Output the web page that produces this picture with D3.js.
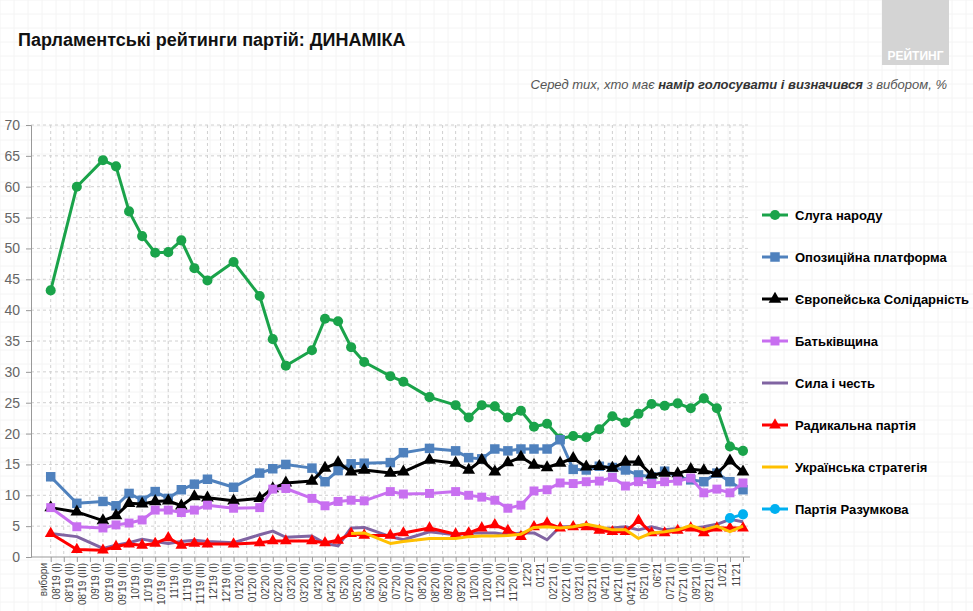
<!DOCTYPE html>
<html>
<head>
<meta charset="utf-8">
<script src="https://d3js.org/d3.v7.min.js"></script>
<style>
body { margin: 0; background: #fff; font-family: Arial, "Liberation Sans", sans-serif; }
</style>
</head>
<body>
<svg width="973" height="611"></svg>
<script>
// categories (survey waves)
var labels = ["вибори","08'19 (I)","08'19 (II)","08'19 (III)","09'19 (I)","09'19 (II)","09'19 (III)","10'19 (I)","10'19 (II)","10'19 (III)",
  "11'19 (I)","11'19 (II)","11'19 (III)","12'19 (I)","12'19 (II)","01'20 (I)","01'20 (II)","02'20 (I)","02'20 (II)","03'20 (I)",
  "03'20 (II)","04'20 (I)","04'20 (II)","05'20 (I)","05'20 (II)","06'20 (I)","06'20 (II)","07'20 (I)","07'20 (II)","08'20 (I)",
  "08'20 (II)","09'20 (I)","09'20 (II)","10'20 (I)","10'20 (II)","11'20 (I)","11'20 (II)","12'20","01'21","02'21 (I)",
  "02'21 (II)","03'21 (I)","03'21 (II)","04'21 (I)","04'21 (II)","04'21 (III)","05'21 (I)","06'21","07'21 (I)","07'21 (II)",
  "09'21 (I)","09'21 (II)","10'21","11'21"];
var yTicks = [0,5,10,15,20,25,30,35,40,45,50,55,60,65,70];

// waves that have data (null = no poll in that slot)
var N = null;
var servant = [43.2,N,60,N,64.3,63.3,56,52,49.3,49.4,51.3,46.8,44.8,N,47.8,N,42.3,35.3,31,N,33.5,38.6,38.2,34,31.6,N,29.3,28.4,N,25.9,
  N,24.6,22.6,24.6,24.4,22.6,23.7,21.1,21.6,19.2,19.6,19.4,20.7,22.8,21.8,23.2,24.8,24.5,24.9,24.1,25.7,24.1,17.9,17.2];
var opzzh = [13.0,N,8.7,N,9.0,8.3,10.3,9.2,10.6,9.5,10.9,11.8,12.6,N,11.3,N,13.6,14.3,15.0,N,14.4,12.2,14.0,15.1,15.2,N,15.3,16.9,N,17.6,
  N,17.2,16.1,15.9,17.5,17.2,17.5,17.5,17.5,19.0,14.2,14.1,14.7,14.5,14.1,13.3,13.0,13.9,13.0,12.5,12.2,13.6,12.2,10.9];
var es = [8.0,N,7.3,N,5.9,6.7,8.7,8.6,9.0,9.1,8.3,9.8,9.6,N,9.1,N,9.5,11.1,12.0,N,12.3,14.4,15.3,13.8,14.1,N,13.6,13.8,N,15.7,
  N,15.2,14.1,15.7,13.8,15.3,16.2,14.9,14.5,15.2,16.0,14.6,14.7,14.4,15.4,15.4,13.3,13.6,13.5,14.2,14.0,13.5,15.6,13.8];
var batk = [8.0,N,4.9,N,4.7,5.2,5.5,6.0,7.6,7.6,7.2,7.6,8.4,N,7.9,N,8.0,11.0,11.1,N,9.5,8.3,9.0,9.2,9.1,N,10.6,10.2,N,10.3,
  N,10.6,10.0,9.7,9.2,7.9,8.4,10.7,10.9,12.0,11.9,12.2,12.3,12.9,11.5,12.2,11.9,12.2,12.3,12.8,10.4,11.0,10.4,12.0];
var syla = [3.8,N,3.3,N,1.4,1.9,2.3,2.9,2.5,2.2,2.5,2.7,2.5,N,2.3,N,3.6,4.2,3.2,N,3.4,2.2,1.8,4.7,4.8,N,3.3,2.8,N,4.1,
  N,3.6,3.9,3.9,3.9,3.6,3.9,3.9,2.8,4.9,4.9,5.3,4.6,4.7,4.9,4.4,4.9,4.4,4.6,4.6,4.9,5.3,6.1,5.7];
var radical = [3.8,N,1.2,N,1.1,1.7,2.1,1.9,2.2,3.1,1.9,2.2,2.1,N,2.1,N,2.3,2.6,2.6,N,2.6,2.3,2.7,3.8,3.5,N,3.5,3.9,N,4.7,
  N,3.7,3.9,4.7,5.2,4.3,3.3,4.9,5.5,4.7,4.9,4.9,4.3,4.1,4.1,5.9,3.9,3.9,4.3,4.7,3.9,4.7,4.7,4.7];
var strategy = [N,N,N,N,N,N,N,N,N,N,N,N,N,N,N,N,N,N,N,N,N,N,N,3.8,3.9,N,2.2,2.5,N,3.0,
  N,3.0,3.3,3.4,3.4,3.5,3.7,4.8,4.9,4.7,4.9,5.3,4.9,4.4,4.4,3.0,3.9,4.1,4.4,5.1,4.4,5.0,4.1,5.0];
var razumkov = [N,N,N,N,N,N,N,N,N,N,N,N,N,N,N,N,N,N,N,N,N,N,N,N,N,N,N,N,N,N,
  N,N,N,N,N,N,N,N,N,N,N,N,N,N,N,N,N,N,N,N,N,N,6.3,6.9];

var seriesNames = ["Слуга народу","Опозиційна платформа","Європейська Солідарність","Батьківщина","Сила і честь","Радикальна партія","Українська стратегія","Партія Разумкова"];

var series = [
  {name: seriesNames[0], values: servant, color: "#1aa34a", marker: "circle", size: 80},
  {name: seriesNames[1], values: opzzh, color: "#4f81bd", marker: "square", size: 90},
  {name: seriesNames[2], values: es, color: "#000000", marker: "triangle", size: 70},
  {name: seriesNames[3], values: batk, color: "#c86ff0", marker: "square", size: 80},
  {name: seriesNames[4], values: syla, color: "#8064a2", marker: null},
  {name: seriesNames[5], values: radical, color: "#ff0000", marker: "triangle", size: 60},
  {name: seriesNames[6], values: strategy, color: "#ffc000", marker: null},
  {name: seriesNames[7], values: razumkov, color: "#00b0f0", marker: "circle", size: 80}
];

var svg = d3.select("svg");

// faint paper grid in background
var bg = svg.append("g");
for (var gx = 0; gx < 973; gx += 14) bg.append("line").attr("x1", gx).attr("x2", gx).attr("y1", 0).attr("y2", 611).attr("stroke", "#f4f4f4");
for (var gy = 0; gy < 611; gy += 14) bg.append("line").attr("y1", gy).attr("y2", gy).attr("x1", 0).attr("x2", 973).attr("stroke", "#f4f4f4");

var x = d3.scalePoint().domain(labels).range([50.7, 743]);
var y = d3.scaleLinear().domain([0, 70]).range([557, 125]);

// gridlines
svg.append("g").selectAll("line").data(yTicks.slice(1)).enter().append("line")
  .attr("x1", 31).attr("x2", 750).attr("y1", d => y(d)).attr("y2", d => y(d))
  .attr("stroke", "#d0d0d0").attr("stroke-dasharray", "3,3");
svg.append("g").selectAll("line").data(labels).enter().append("line")
  .attr("x1", d => x(d)).attr("x2", d => x(d)).attr("y1", y(70)).attr("y2", y(0))
  .attr("stroke", "#d0d0d0").attr("stroke-dasharray", "3,3");

// axes
var yAxis = svg.append("g").attr("transform", "translate(31,0)")
  .call(d3.axisLeft(y).tickValues(yTicks).tickSize(5).tickPadding(6));
yAxis.selectAll("text").attr("font-size", 14).attr("fill", "#666").attr("font-family", "Arial");
yAxis.selectAll("line,path").attr("stroke", "#999");

var xAxis = svg.append("g").attr("transform", "translate(0,557)")
  .call(d3.axisBottom(x).tickSize(5));
xAxis.select(".domain").attr("d", "M31,0H750").attr("stroke", "#999");
xAxis.selectAll("line").attr("stroke", "#999");
xAxis.selectAll("text").attr("font-size", 10).attr("fill", "#444").attr("font-family", "Arial")
  .attr("transform", "rotate(-90)").attr("text-anchor", "end").attr("dx", "-6").attr("dy", "-0.4em").attr("y", 0).attr("x", 0);

var symbolOf = {circle: d3.symbolCircle, square: d3.symbolSquare, triangle: d3.symbolTriangle};

var line = d3.line().x(d => x(d.label)).y(d => y(d.v));

series.forEach(function (s) {
  var pts = s.values.map((v, i) => ({label: labels[i], v: v})).filter(d => d.v !== null);
  var g = svg.append("g");
  g.append("path").datum(pts).attr("d", line).attr("fill", "none")
    .attr("stroke", s.color).attr("stroke-width", 3).attr("stroke-linejoin", "round");
  if (s.marker) {
    g.selectAll("path.m").data(pts).enter().append("path").attr("class", "m")
      .attr("d", d3.symbol().type(symbolOf[s.marker]).size(s.size))
      .attr("transform", d => "translate(" + x(d.label) + "," + y(d.v) + ")")
      .attr("fill", s.color);
  }
});

// legend
var lg = svg.append("g").selectAll("g").data(series).enter().append("g")
  .attr("transform", (d, i) => "translate(762," + (215 + i * 42) + ")");
lg.append("line").attr("x1", 0).attr("x2", 26).attr("stroke", d => d.color).attr("stroke-width", 3);
lg.filter(d => d.marker).append("path")
  .attr("d", d => d3.symbol().type(symbolOf[d.marker]).size(d.size)())
  .attr("transform", "translate(13,0)").attr("fill", d => d.color);
lg.append("text").attr("x", 33).attr("y", 5).attr("font-size", 13).attr("font-weight", "bold")
  .attr("fill", "#000").text(d => d.name);

// title
svg.append("text").attr("x", 18).attr("y", 46).attr("font-size", 18).attr("font-weight", "bold")
  .attr("fill", "#111").text("Парламентські рейтинги партій: ДИНАМІКА");

// subtitle
var sub = svg.append("text").attr("x", 947).attr("y", 89).attr("text-anchor", "end")
  .attr("font-size", 13).attr("font-style", "italic").attr("fill", "#555");
sub.append("tspan").text("Серед тих, хто має ");
sub.append("tspan").attr("font-weight", "bold").attr("fill", "#333").text("намір голосувати і визначився");
sub.append("tspan").text(" з вибором, %");

// logo
svg.append("rect").attr("x", 882).attr("y", 0).attr("width", 67).attr("height", 65).attr("fill", "#d4d4d4");
svg.append("text").attr("x", 915.5).attr("y", 60).attr("text-anchor", "middle").attr("font-size", 12)
  .attr("font-weight", "bold").attr("fill", "#fff").text("РЕЙТИНГ");
</script>
</body>
</html>
